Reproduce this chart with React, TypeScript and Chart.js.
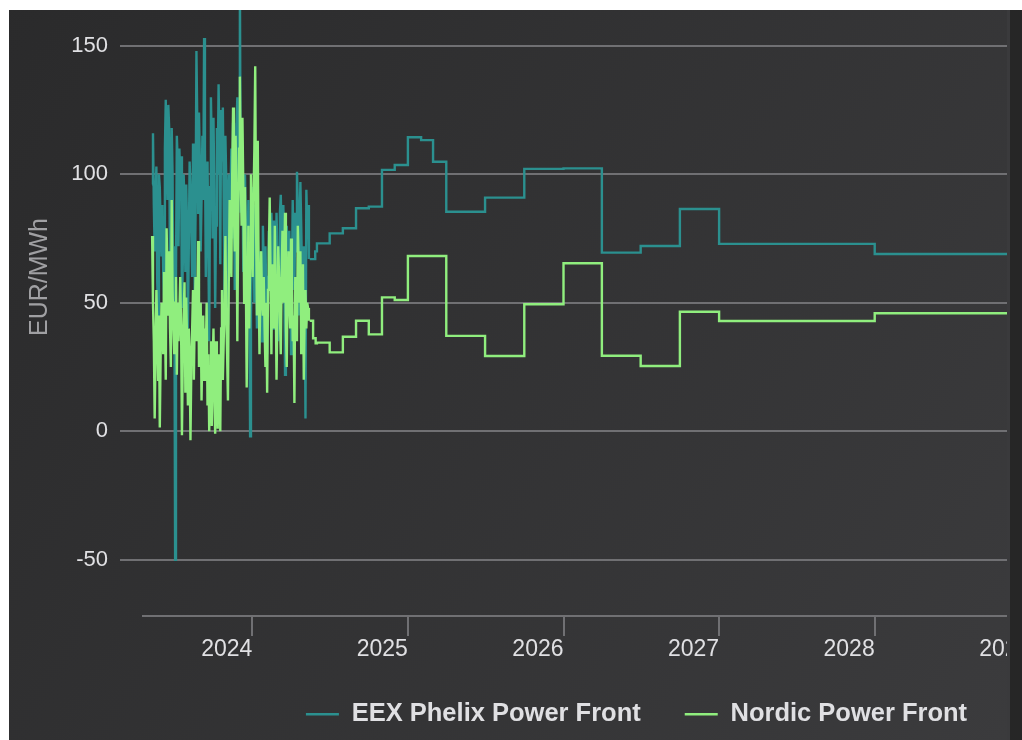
import React, { useEffect, useRef } from 'react';
import { Chart, registerables } from 'chart.js';

Chart.register(...registerables);

// ---------- data ----------
const seriesNames = ['EEX Phelix Power Front', 'Nordic Power Front'];
const seriesColors = ['#2b908f', '#90ee7e'];
const yAxisTitle = 'EUR/MWh';

// price history, first sample date and spacing in days
const historyStart = '2023-05-11';
const historyStepDays = 2;

const eexHistory = [
  96, 116, 88, 70, 92, 103, 58, 45, 100, 95,
  80, 68, 88, 62, 52, 110, 129, 105, 90, 127,
  118, 58, 85, 118, 100, 40, 72, -50, 60, 115,
  105, 72, 110, 98, 107, 48, 65, 100, 88, 62,
  96, 80, 40, 70, 105, 95, 78, 60, 112, 100,
  55, 85, 148, 120, 85, 124, 105, 70, 90, 115,
  90, 153, 110, 60, 85, 105, 72, 35, 95, 130,
  110, 75, 122, 95, 48, 80, 118, 100, 135, 112,
  65, 125, 105, 126, 90, 50, 115, 98, 42, 85,
  100, 68, 92, 110, 75, 120, 100, 55, 80, 118,
  130, 95, 110, 178, 85, 110, 100, 62, 90, 100,
  78, 48, 70, 90, 60, -2, 45, 70, 95, 82,
  50, 88, 70, 40, 75, 62, 55, 70, 58, 35,
  80, 65, 45, 72, 55, 30, 60, 78, 70, 60,
  85, 72, 40, 82, 68, 55, 85, 70, 35, 60,
  85, 92, 75, 60, 88, 70, 22, 50, 80, 65,
  50, 78, 60, 30, 55, 90, 72, 55, 85, 70,
  101, 88, 45, 75, 97, 80, 60, 40, 72, 60,
  5, 94, 80, 88, 67,
];

const nordicHistory = [
  76, 50, 35, 5, 30, 55, 40, 20, 45, 1.5,
  30, 50, 42, 30, 62, 45, 20, 79, 60, 45,
  70, 40, 25, 90, 55, 40, 30, 50, 60, 22,
  50, 35, 45, 60, 40, -1.6, 30, 45, 58, 15,
  52, 35, 10, 40, 30, -3.5, 25, 40, 55, 20,
  45, 60, 35, 50, 74, 25, 40, 50, 12, 35,
  45, 20, 40, 30, 50, 10, 30, 0, 25, 35,
  2, 25, 40, 15, -1, 35, 20, 1, 30, 28,
  0, 40, 55, 20, 35, 50, 76, 45, 30, 12,
  60, 90, 75, 60, 100, 126, 85, 70, 115, 90,
  35, 80, 110, 138, 100, 80, 122, 95, 50, 95,
  60, 17, 50, 80, 40, 65, 100, 75, 60, 90,
  110, 142, 80, 45, 113, 60, 30, 55, 70, 50,
  45, 60, 40, 25, 50, 15, 55, 70, 91, 60,
  30, 65, 50, 40, 80, 55, 20, 45, 72, 60,
  45, 30, 60, 78, 50, 65, 85, 40, 25, 55,
  70, 50, 40, 75, 60, 35, 45, 11, 60, 50,
  35, 80, 65, 50, 70, 30, 55, 65, 20, 45,
  55, 40, 50, 48, 43,
];

// forward curve: contract start dates and prices (each price holds until the next start)
const eexForwardStarts = [
  '2024-05-15', '2024-05-28', '2024-06-01', '2024-07-01', '2024-08-01', '2024-09-01',
  '2024-10-01', '2024-11-01', '2024-12-01', '2025-01-01', '2025-02-01', '2025-03-01',
  '2025-04-01', '2025-07-01', '2025-10-01', '2026-01-01', '2026-04-01', '2026-07-01',
  '2026-10-01', '2027-01-01', '2028-01-01',
];
const eexForwardValues = [
  67, 70, 73.1, 77, 79, 86.8,
  87.4, 101.7, 103.6, 114.4, 113.3, 104.9,
  85.4, 90.9, 102.1, 102.3, 69.5, 72.1,
  86.5, 72.9, 69,
];

const nordicForwardStarts = [
  '2024-05-15', '2024-05-23', '2024-05-29', '2024-06-01', '2024-07-01', '2024-08-01',
  '2024-09-01', '2024-10-01', '2024-11-01', '2024-12-01', '2025-01-01', '2025-04-01',
  '2025-07-01', '2025-10-01', '2026-01-01', '2026-04-01', '2026-07-01', '2026-10-01',
  '2027-01-01', '2028-01-01',
];
const nordicForwardValues = [
  43, 36.2, 34.2, 34.5, 30.7, 36.8,
  43, 37.7, 52.1, 51.1, 68.2, 37.1,
  29.3, 49.4, 65.4, 29.4, 25.4, 46.5,
  42.9, 45.9,
];
const forwardEnd = '2029-01-01';

const xTickYears = [2024, 2025, 2026, 2027, 2028, 2029, 2030];
const yTickValues = [-50, 0, 50, 100, 150];
const xRange = [2023.1497, 2030.5019];
const yRange = [-71.9, 191.95];

// ---------- helpers ----------
function toYear(iso: string): number {
  const t = Date.parse(iso + 'T00:00:00Z');
  const y = new Date(t).getUTCFullYear();
  const a = Date.UTC(y, 0, 1);
  const b = Date.UTC(y + 1, 0, 1);
  return y + (t - a) / (b - a);
}

function historyPoints(values: number[]) {
  const x0 = toYear(historyStart);
  return values.map((v, i) => ({ x: x0 + (i * historyStepDays) / 365.25, y: v }));
}

function forwardPoints(starts: string[], values: number[]) {
  const pts = starts.map((d, i) => ({ x: toYear(d), y: values[i] }));
  pts.push({ x: toYear(forwardEnd), y: values[values.length - 1] });
  return pts;
}

const FONT = "'Liberation Sans', Arial, Helvetica, sans-serif";
const GRID = '#707073';
const LABEL = '#E0E0E3';

const bgPlugin = {
  id: 'bgGradient',
  beforeDraw(chart: any) {
    const { ctx, width, height } = chart;
    const g = ctx.createLinearGradient(0, 0, width, height);
    g.addColorStop(0, '#2a2a2b');
    g.addColorStop(1, '#3e3e40');
    ctx.save();
    ctx.fillStyle = g;
    ctx.fillRect(0, 0, width, height);
    ctx.restore();
  },
};

// x axis line (starts a little right of the plot's left edge) and room for the x labels
const axisPlugin = {
  id: 'xAxisLine',
  afterLayout(chart: any) {
    const s = chart.scales.x;
    s.bottom = s.top + 70;
  },
  beforeDatasetsDraw(chart: any) {
    const { ctx, chartArea } = chart;
    ctx.save();
    ctx.strokeStyle = GRID;
    ctx.lineWidth = 2;
    ctx.beginPath();
    ctx.moveTo(chartArea.left + 22, chartArea.bottom);
    ctx.lineTo(chartArea.right, chartArea.bottom);
    ctx.stroke();
    ctx.restore();
  },
};

export default function App() {
  const ref = useRef<HTMLCanvasElement>(null);

  useEffect(() => {
    const canvas = ref.current;
    if (!canvas) return;
    const lineBase = { pointRadius: 0, pointHoverRadius: 0, borderWidth: 2.4, tension: 0, fill: false };
    const chart = new Chart(canvas, {
      type: 'line',
      data: {
        datasets: [
          { ...lineBase, label: seriesNames[0], data: historyPoints(eexHistory), borderColor: seriesColors[0], backgroundColor: seriesColors[0], order: 2 },
          { ...lineBase, label: seriesNames[1], data: historyPoints(nordicHistory), borderColor: seriesColors[1], backgroundColor: seriesColors[1], order: 1 },
          { ...lineBase, label: seriesNames[0] + ' forward', data: forwardPoints(eexForwardStarts, eexForwardValues), borderColor: seriesColors[0], backgroundColor: seriesColors[0], stepped: 'before', order: 2 },
          { ...lineBase, label: seriesNames[1] + ' forward', data: forwardPoints(nordicForwardStarts, nordicForwardValues), borderColor: seriesColors[1], backgroundColor: seriesColors[1], stepped: 'before', order: 1 },
        ],
      } as any,
      options: {
        responsive: false,
        animation: false,
        events: [],
        layout: { padding: { left: 0, right: 10, top: 0, bottom: 3 } },
        plugins: {
          tooltip: { enabled: false },
          legend: {
            display: true,
            position: 'bottom',
            labels: {
              color: LABEL,
              font: { family: FONT, size: 25.5, weight: 'bold' },
              usePointStyle: true,
              pointStyle: 'line',
              pointStyleWidth: 33,
              padding: 44,
              filter: (item: any) => item.datasetIndex < 2,
              sort: (a: any, b: any) => a.datasetIndex - b.datasetIndex,
            },
          },
        },
        scales: {
          x: {
            type: 'linear',
            min: xRange[0],
            max: xRange[1],
            afterBuildTicks: (s: any) => {
              s.ticks = xTickYears.map((v) => ({ value: v }));
            },
            afterFit: (s: any) => {
              s.height = 41.5;
              s.paddingLeft = 0;
              s.paddingRight = 0;
            },
            ticks: {
              color: LABEL,
              font: { family: FONT, size: 23 },
              align: 'end',
              padding: 0,
              maxRotation: 0,
              autoSkip: false,
              callback: (v: any) => String(v),
            },
            grid: { drawOnChartArea: false, drawTicks: true, tickLength: 20, color: GRID, lineWidth: 2 },
            border: { display: false },
          },
          y: {
            type: 'linear',
            min: yRange[0],
            max: yRange[1],
            afterBuildTicks: (s: any) => {
              s.ticks = yTickValues.map((v) => ({ value: v }));
            },
            afterFit: (s: any) => {
              s.width = 111;
              s.paddingTop = 0;
              s.paddingBottom = 0;
            },
            ticks: {
              color: LABEL,
              font: { family: FONT, size: 22 },
              padding: 12,
              callback: (v: any) => String(v),
            },
            grid: { color: GRID, lineWidth: 2, drawTicks: false },
            border: { display: false },
            title: {
              display: true,
              text: yAxisTitle,
              color: '#A0A0A3',
              font: { family: FONT, size: 25 },
              padding: { top: 16, bottom: 0 },
            },
          },
        },
      } as any,
      plugins: [bgPlugin, axisPlugin],
    });
    return () => chart.destroy();
  }, []);

  return (
    <div style={{ position: 'fixed', left: 9, top: 10, width: 1013, height: 730, background: '#262626' }}>
      <div
        style={{
          position: 'absolute',
          left: 0,
          top: 0,
          width: 998,
          height: 730,
          overflow: 'hidden',
          borderRight: '3px solid #3a3a3c',
        }}
      >
        <canvas
          ref={ref}
          width={1265}
          height={802}
          style={{ position: 'absolute', left: 0, top: -72, width: 1265, height: 802, display: 'block' }}
        />
      </div>
    </div>
  );
}
